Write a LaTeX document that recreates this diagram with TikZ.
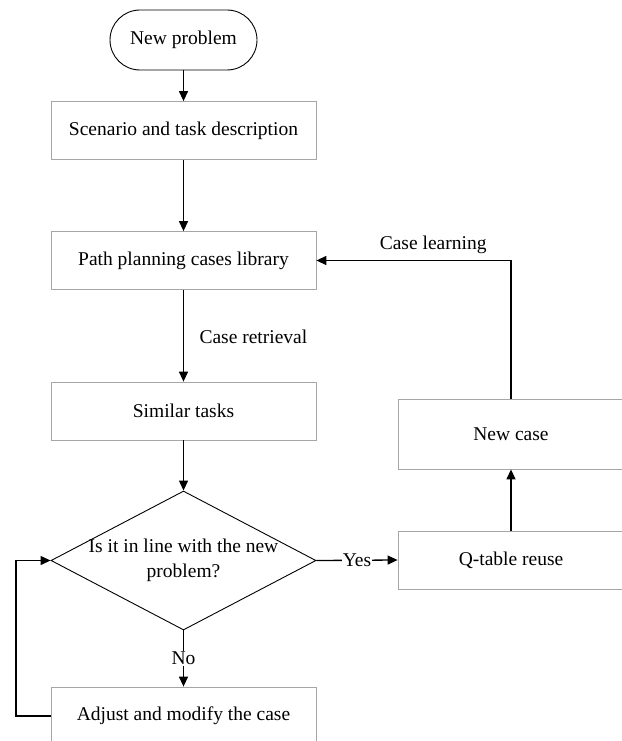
\documentclass[tikz,border=0pt]{standalone}
\usepackage{fontspec}
\setmainfont{Liberation Serif}
\usetikzlibrary{shapes.geometric,arrows.meta}
\begin{document}
\begin{tikzpicture}[x=1pt,y=-1pt,>={Triangle[length=10pt,width=9pt]},every node/.style={font=\fontsize{19.5}{25}\selectfont}]
		\tikzstyle{block} = [rectangle,draw=gray!70,line width=0.8pt,minimum height=58pt,inner sep=0pt]
		\tikzstyle{terminal} = [rectangle,draw,line width=0.9pt,rounded corners=30pt,minimum width=147pt,minimum height=60pt]
		\tikzstyle{decision} = [diamond,draw,line width=0.9pt,minimum width=265pt,minimum height=139pt,inner sep=0pt]
		\tikzstyle{flow} = [line width=1.3pt]
		\useasboundingbox (0,0) rectangle (621,741);
		\node[terminal](start)at (183.5,40){New problem};
		\node[block,minimum width=265pt](scenario)at (183.5,130.5){Scenario and task description};
		\node[block,minimum width=265pt](library)at (183.5,260.5){Path planning cases library};
		\node[block,minimum width=265pt](similar)at (183.5,411){Similar tasks};
		\node[decision](check)at (183.5,560.5){};
		\node[align=center](question)at (check){Is it in line with the new\\problem?};
		\node[block,minimum width=265pt](adjust)at (183.5,716){Adjust and modify the case};
		\node[block,minimum width=226pt](reuse)at (511,560){Q-table reuse};
		\node[block,minimum width=226pt,minimum height=70pt](newcase)at (511,434){New case};
		\node[anchor=west](retrieval)at (196,337){Case retrieval};
		\coordinate (back) at (16,716);
		\path[->,flow] (start) edge (scenario)
		(scenario) edge (library)
		(library) edge (similar)
		(similar) edge (check)
		(reuse) edge (newcase);
		\draw[->,flow] (check.east) -- node[fill=white,inner sep=1pt](yes){Yes} (reuse.west);
		\draw[->,flow] (check.south) -- node[fill=white,inner sep=1pt](no){No} (adjust.north);
		\draw[->,flow] (newcase.north) |- node[pos=0.7,above=3pt](learning){Case learning} (library.east);
		\draw[->,flow] (adjust.west) -- (back) |- (check.west);
		\end{tikzpicture}
\end{document}
